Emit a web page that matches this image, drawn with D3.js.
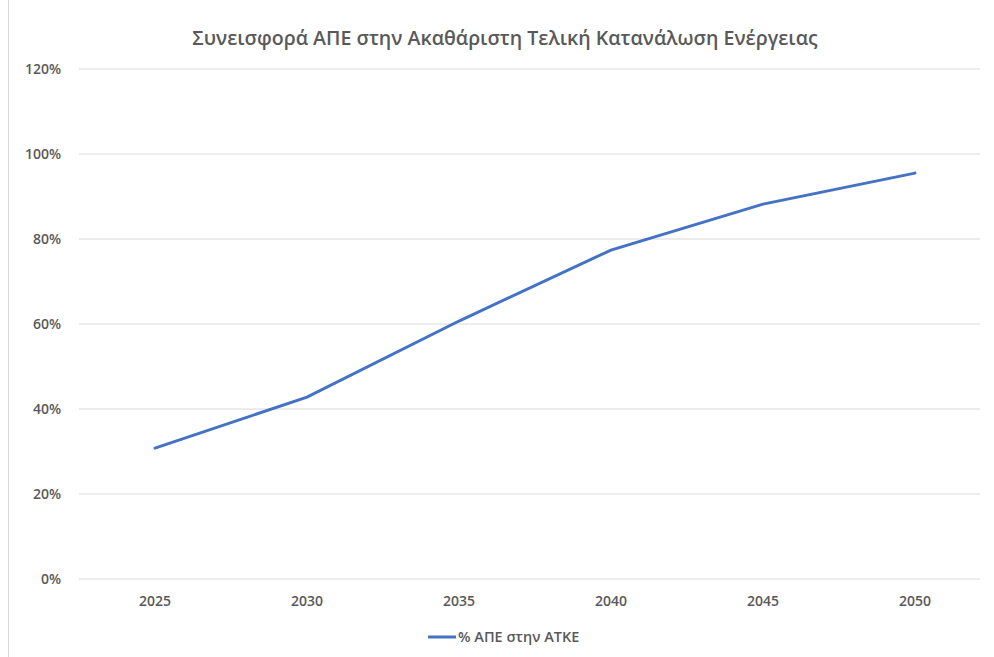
<!DOCTYPE html>
<html><head><meta charset="utf-8">
<script src="https://cdn.jsdelivr.net/npm/d3@7"></script>
<style>body{margin:0;background:#fff}svg{display:block}</style>
</head><body>
<svg id="c" width="994" height="657"></svg>
<script>
const years = ["2025","2030","2035","2040","2045","2050"];
const values = [0.308, 0.428, 0.607, 0.774, 0.882, 0.955];
const yTicks = [0, 0.2, 0.4, 0.6, 0.8, 1.0, 1.2];
const title = "Συνεισφορά ΑΠΕ στην Ακαθάριστη Τελική Κατανάλωση Ενέργειας";
const seriesName = "% ΑΠΕ στην ΑΤΚΕ";

const svg = d3.select("#c");
const font = "'Open Sans', 'Noto Sans', sans-serif";
const grey = "#595959";

svg.append("rect").attr("x",8.5).attr("y",-2).attr("width",990).attr("height",700)
  .attr("fill","#fff").attr("stroke","#d9d9d9");

const x = d3.scaleBand().domain(years).range([79, 991]);
const y = d3.scaleLinear().domain([0, 1.2]).range([579, 69]);

const grid = svg.append("g");
grid.selectAll("line").data(yTicks).join("line")
  .attr("x1",79).attr("x2",980)
  .attr("y1",d=>y(d)).attr("y2",d=>y(d))
  .attr("stroke","#d9d9d9").attr("stroke-width",1);

const ya = svg.append("g").attr("transform","translate(66,0)")
  .call(d3.axisLeft(y).tickValues(yTicks).tickFormat(d3.format(".0%")).tickSize(0));
ya.select(".domain").remove();
ya.selectAll("text").attr("fill",grey).attr("font-family",font).attr("font-size",14).attr("font-weight",600).attr("dx",-2);

const xa = svg.append("g").attr("transform","translate(0,593)")
  .call(d3.axisBottom(x).tickSize(0));
xa.select(".domain").remove();
xa.selectAll("text").attr("fill",grey).attr("font-family",font).attr("font-size",14).attr("font-weight",600);

const line = d3.line().x((d,i)=>x(years[i])+x.bandwidth()/2).y(d=>y(d));
svg.append("path").datum(values).attr("d",line)
  .attr("fill","none").attr("stroke","#4472C4").attr("stroke-width",3).attr("stroke-linecap","round");

svg.append("text").attr("x",505).attr("y",45).attr("text-anchor","middle")
  .attr("fill",grey).attr("font-family",font).attr("font-size",19.6).attr("font-weight",600)
  .text(title);

svg.append("line").attr("x1",428).attr("x2",456).attr("y1",637).attr("y2",637)
  .attr("stroke","#4472C4").attr("stroke-width",3);
svg.append("text").attr("x",458).attr("y",642).attr("fill",grey)
  .attr("font-family",font).attr("font-size",14.5).attr("font-weight",600).text(seriesName);
</script>
</body></html>
